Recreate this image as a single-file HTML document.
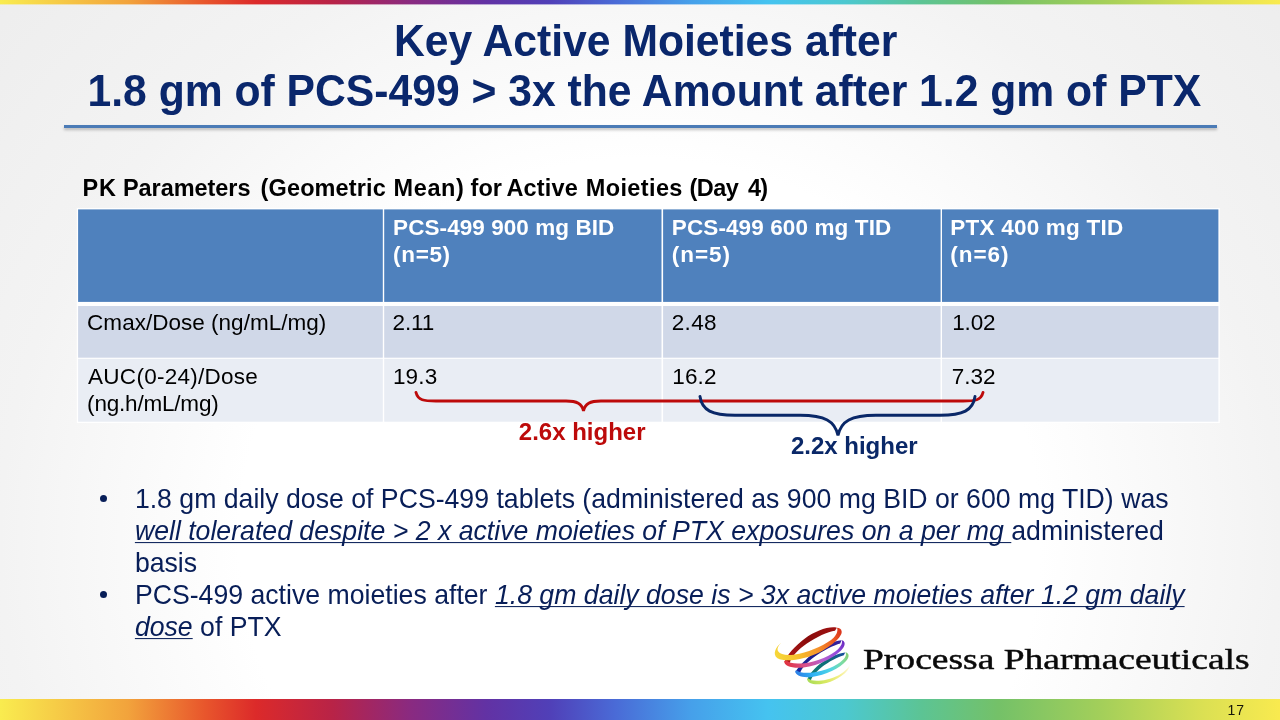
<!DOCTYPE html>
<html lang="en">
<head>
<meta charset="utf-8">
<title>Key Active Moieties</title>
<style>
html,body{margin:0;padding:0;}
body{width:1280px;height:720px;overflow:hidden;position:relative;font-family:"Liberation Sans",Arial,sans-serif;
 background:#fff;}
#bg{position:absolute;left:0;top:0;width:1280px;height:720px;
 background:radial-gradient(ellipse 880px 836px at 640px 540px,#ffffff 0%,#ffffff 45.5%,#f3f3f3 72.7%,#ededed 100%);}
.abs{position:absolute;white-space:nowrap;}
#topbar{left:0;top:0;width:1280px;height:4px;}
#botbar{left:0;top:699px;width:1280px;height:21px;}
.rainbow{background:linear-gradient(90deg,#f9ec4f 0%,#f2a33c 10%,#e8562c 16%,#dc2a2a 20%,#b82347 26%,#8a2a80 32%,#6232a4 38%,#5040b8 43%,#4a6ad6 48%,#46a0ea 54%,#45c3f0 60%,#4cc8d0 66%,#5cc494 72%,#74c168 78%,#a3cf5a 86%,#dbe053 94%,#f9ea4f 100%);}
.title{color:#0a276c;font-weight:bold;font-size:42.67px;line-height:50px;transform-origin:0 39.8px;transform:scaleY(1.035);}
#t1{left:394px;top:15.5px;}
#t2{left:87.5px;top:65.5px;}
#rule{left:64px;top:125px;width:1152.5px;height:3px;background:#4b7bb6;box-shadow:0 2px 3px rgba(0,0,0,.25);}
#cap{position:absolute;left:0;top:173.8px;width:1280px;height:28px;font-weight:bold;font-size:23.5px;line-height:28px;color:#000;transform-origin:0 22.1px;transform:scaleY(1.02);}
#cap span{position:absolute;top:0;white-space:nowrap;}
.cell{position:absolute;box-sizing:border-box;}
.hd{background:#4f81bd;color:#fff;font-weight:bold;}
.r1{background:#d0d8e8;}
.r2{background:#e9edf4;}
.tt{font-size:22.5px;line-height:28px;}
.bl{color:#081e58;font-size:26.67px;line-height:32px;transform-origin:0 25.2px;transform:scaleY(1.035);}
.bl i{text-decoration:underline;text-decoration-thickness:1.3px;text-underline-offset:1.8px;text-decoration-skip-ink:none;}
.dot{position:absolute;width:7px;height:7px;border-radius:50%;background:#081e58;}
#pg{left:1227.6px;top:703.2px;font-size:14px;line-height:14px;letter-spacing:0.9px;color:#15150a;}
#lt{left:862.5px;top:641px;font-family:"Liberation Serif",serif;font-size:29.5px;line-height:36px;color:#0a0a0a;transform-origin:0 0;transform:scaleX(1.272);-webkit-text-stroke:0.45px #0a0a0a;}
</style>
</head>
<body>
<div id="bg"></div>
<div id="topbar" class="abs rainbow"></div>
<div id="botbar" class="abs rainbow"></div>
<div class="abs rainbow" style="left:0;top:4px;width:1280px;height:1px;opacity:.4;"></div>

<div id="t1" class="abs title">Key Active Moieties after</div>
<div id="t2" class="abs title">1.8 gm of PCS-499 &gt; 3x the Amount after 1.2 gm of PTX</div>
<div id="rule" class="abs"></div>

<div id="cap"><span style="left:82.5px;letter-spacing:0.80px;">PK</span> <span style="left:123.0px;letter-spacing:-0.06px;">Parameters</span> <span style="left:260.6px;letter-spacing:0.12px;">(Geometric</span> <span style="left:393.6px;letter-spacing:0.58px;">Mean)</span> <span style="left:470.6px;letter-spacing:0.00px;">for</span> <span style="left:506.4px;letter-spacing:0.16px;">Active</span> <span style="left:585.8px;letter-spacing:0.37px;">Moieties</span> <span style="left:689.4px;letter-spacing:-0.53px;">(Day</span> <span style="left:748.0px;letter-spacing:-0.80px;">4)</span></div>

<!-- table -->
<svg class="abs" style="left:0;top:0" width="1280" height="720" viewBox="0 0 1280 720">
 <rect x="76.8" y="208.1" width="1143" height="214.9" fill="#ffffff"/>
 <rect x="78.1" y="209.4" width="304.7" height="92.5" fill="#4f81bd"/>
 <rect x="384.2" y="209.4" width="277.3" height="92.5" fill="#4f81bd"/>
 <rect x="663.1" y="209.4" width="277.5" height="92.5" fill="#4f81bd"/>
 <rect x="942" y="209.4" width="276.4" height="92.5" fill="#4f81bd"/>
 <rect x="78.1" y="306" width="304.7" height="51.7" fill="#d0d8e8"/>
 <rect x="384.2" y="306" width="277.3" height="51.7" fill="#d0d8e8"/>
 <rect x="663.1" y="306" width="277.5" height="51.7" fill="#d0d8e8"/>
 <rect x="942" y="306" width="276.4" height="51.7" fill="#d0d8e8"/>
 <rect x="78.1" y="358.8" width="304.7" height="62.9" fill="#e9edf4"/>
 <rect x="384.2" y="358.8" width="277.3" height="62.9" fill="#e9edf4"/>
 <rect x="663.1" y="358.8" width="277.5" height="62.9" fill="#e9edf4"/>
 <rect x="942" y="358.8" width="276.4" height="62.9" fill="#e9edf4"/>
</svg>
<div class="abs tt" style="left:393.1px;top:213.6px;letter-spacing:0.07px;color:#fff;font-weight:bold;">PCS-499 900 mg BID</div>
<div class="abs tt" style="left:393.1px;top:241.3px;letter-spacing:0.65px;color:#fff;font-weight:bold;">(n=5)</div>
<div class="abs tt" style="left:671.8px;top:213.6px;letter-spacing:0.11px;color:#fff;font-weight:bold;">PCS-499 600 mg TID</div>
<div class="abs tt" style="left:671.8px;top:241.3px;letter-spacing:0.97px;color:#fff;font-weight:bold;">(n=5)</div>
<div class="abs tt" style="left:950.3px;top:213.6px;letter-spacing:0.22px;color:#fff;font-weight:bold;">PTX 400 mg TID</div>
<div class="abs tt" style="left:950.3px;top:241.3px;letter-spacing:0.97px;color:#fff;font-weight:bold;">(n=6)</div>
<div class="abs tt" style="left:87.1px;top:308.7px;letter-spacing:0.02px;color:#000;">Cmax/Dose (ng/mL/mg)</div>
<div class="abs tt" style="left:392.5px;top:308.7px;letter-spacing:-0.13px;color:#000;">2.11</div>
<div class="abs tt" style="left:671.8px;top:308.7px;letter-spacing:0.30px;color:#000;">2.48</div>
<div class="abs tt" style="left:952.3px;top:308.7px;letter-spacing:-0.20px;color:#000;">1.02</div>
<div class="abs tt" style="left:88.1px;top:362.5px;letter-spacing:0.26px;color:#000;">AUC(0-24)/Dose</div>
<div class="abs tt" style="left:87.1px;top:389.9px;letter-spacing:-0.20px;color:#000;">(ng.h/mL/mg)</div>
<div class="abs tt" style="left:392.9px;top:362.5px;letter-spacing:0.20px;color:#000;">19.3</div>
<div class="abs tt" style="left:672.3px;top:362.5px;letter-spacing:0.13px;color:#000;">16.2</div>
<div class="abs tt" style="left:951.8px;top:362.5px;letter-spacing:-0.03px;color:#000;">7.32</div>

<!-- braces -->
<svg class="abs" style="left:0;top:0" width="1280" height="720" viewBox="0 0 1280 720">
 <path d="M416 392.5 C418 400.5 424 401 436 401 L566 401 C577 401 582 403.5 583.5 411 C585 403.5 590 401 601 401 L963 401 C975 401 981 400.5 983 392.5" fill="none" stroke="#bd0a0a" stroke-width="2.9" stroke-linecap="round"/>
 <path d="M700 396.5 C702 410.5 712 415.2 735 415.2 L800 415.2 C825 415.2 835 421 838 435.5 C841 421 851 415.2 876 415.2 L940 415.2 C963 415.2 973 410.5 975 396.5" fill="none" stroke="#0a2868" stroke-width="2.9" stroke-linecap="round"/>
</svg>
<div class="abs" style="left:518.8px;top:419.3px;font-weight:bold;font-size:24px;line-height:26px;color:#bd0a0a;">2.6x higher</div>
<div class="abs" style="left:790.9px;top:433.4px;font-weight:bold;font-size:24px;line-height:26px;color:#0a2868;">2.2x higher</div>

<!-- bullets -->
<div class="dot" style="left:100.1px;top:494.8px;"></div>
<div class="dot" style="left:100.1px;top:590.8px;"></div>
<div class="abs bl" style="left:134.9px;top:482.7px;">1.8 gm daily dose of PCS-499 tablets (administered as 900 mg BID or 600 mg TID) was</div>
<div class="abs bl" style="left:134.9px;top:514.7px;"><i>well tolerated despite &gt; 2 x active moieties of PTX exposures on a per mg </i>administered</div>
<div class="abs bl" style="left:134.9px;top:546.7px;">basis</div>
<div class="abs bl" style="left:134.9px;top:578.7px;">PCS-499 active moieties after <i>1.8 gm daily dose is &gt; 3x active moieties after 1.2 gm daily</i></div>
<div class="abs bl" style="left:134.9px;top:610.7px;"><i>dose</i> of PTX</div>

<!-- logo -->
<svg class="abs" style="left:765px;top:620px" width="100" height="75" viewBox="0 0 960 720">
 <defs>
  <linearGradient id="g1" gradientUnits="userSpaceOnUse" x1="90" y1="330" x2="735" y2="100">
   <stop offset="0" stop-color="#f6d83a"/><stop offset="0.3" stop-color="#f7c02c"/><stop offset="0.6" stop-color="#f5922a"/><stop offset="0.85" stop-color="#ee5a22"/><stop offset="1" stop-color="#d8321c"/>
  </linearGradient>
  <linearGradient id="g1b" gradientUnits="userSpaceOnUse" x1="690" y1="75" x2="200" y2="400">
   <stop offset="0" stop-color="#a01212"/><stop offset="0.5" stop-color="#8a0c0c"/><stop offset="1" stop-color="#b01818"/>
  </linearGradient>
  <linearGradient id="g2" gradientUnits="userSpaceOnUse" x1="185" y1="430" x2="760" y2="210">
   <stop offset="0" stop-color="#e2303a"/><stop offset="0.3" stop-color="#d8508a"/><stop offset="0.6" stop-color="#b45ed0"/><stop offset="0.85" stop-color="#9248dc"/><stop offset="1" stop-color="#6a2cc0"/>
  </linearGradient>
  <linearGradient id="g2b" gradientUnits="userSpaceOnUse" x1="735" y1="200" x2="300" y2="500">
   <stop offset="0" stop-color="#3a22a0"/><stop offset="0.5" stop-color="#1c1888"/><stop offset="1" stop-color="#1a2a9c"/>
  </linearGradient>
  <linearGradient id="g3" gradientUnits="userSpaceOnUse" x1="290" y1="520" x2="800" y2="320">
   <stop offset="0" stop-color="#2c7ce6"/><stop offset="0.3" stop-color="#2fb4f4"/><stop offset="0.6" stop-color="#4fd4e6"/><stop offset="0.85" stop-color="#7edca0"/><stop offset="1" stop-color="#86cc70"/>
  </linearGradient>
  <linearGradient id="g3b" gradientUnits="userSpaceOnUse" x1="770" y1="312" x2="410" y2="570">
   <stop offset="0" stop-color="#1a4ca0"/><stop offset="0.4" stop-color="#0f6a78"/><stop offset="1" stop-color="#128070"/>
  </linearGradient>
  <linearGradient id="g4" gradientUnits="userSpaceOnUse" x1="405" y1="590" x2="812" y2="440">
   <stop offset="0" stop-color="#a8dc58"/><stop offset="0.35" stop-color="#d4e85e"/><stop offset="0.7" stop-color="#f3ef86"/><stop offset="0.92" stop-color="#faf4b8" stop-opacity="0.85"/><stop offset="1" stop-color="#fdf9d8" stop-opacity="0.3"/>
  </linearGradient>
 </defs>
 <path d="M690 75 C620 55 480 105 380 180 C290 248 205 340 188 402 L238 412 C252 352 322 282 402 226 C492 162 602 112 672 102 Z" fill="url(#g1b)"/>
 <path d="M735 195 C650 198 520 268 440 338 C370 398 308 460 293 502 L337 512 C347 466 402 410 472 356 C552 296 662 242 722 226 Z" fill="url(#g2b)"/>
 <path d="M770 311 C700 318 590 368 520 428 C460 478 420 530 408 572 L442 577 C452 542 492 496 546 452 C612 402 702 352 757 339 Z" fill="url(#g3b)"/>
 <path d="M403 563 C408 607 470 628 552 613 C654 595 764 532 809 460 C817 446 816 436 811 430 C806 448 788 472 757 497 C698 545 610 576 540 581 C480 586 432 582 417 562 Z" fill="url(#g4)"/>
 <path d="M290 488 C288 535 360 557 450 546 C580 531 720 461 780 391 C816 350 806 314 770 309 C786 330 776 355 746 385 C690 440 570 494 460 504 C380 511 326 505 306 484 Z" fill="url(#g3)"/>
 <path d="M185 393 C178 440 260 467 370 456 C520 441 680 351 740 281 C776 240 771 199 735 194 C746 215 736 245 701 280 C640 340 500 399 380 414 C290 424 231 415 206 389 Z" fill="url(#g2)"/>
 <path d="M160 215 C100 258 68 330 120 366 C200 412 400 372 520 311 C640 250 742 160 736 110 C733 85 716 74 690 74 C701 90 696 130 661 169 C600 230 450 299 330 324 C230 344 152 340 126 300 C111 275 130 240 160 215 Z" fill="url(#g1)"/>
</svg>
<div id="lt" class="abs">Processa Pharmaceuticals</div>
<div id="pg" class="abs">17</div>
</body>
</html>
